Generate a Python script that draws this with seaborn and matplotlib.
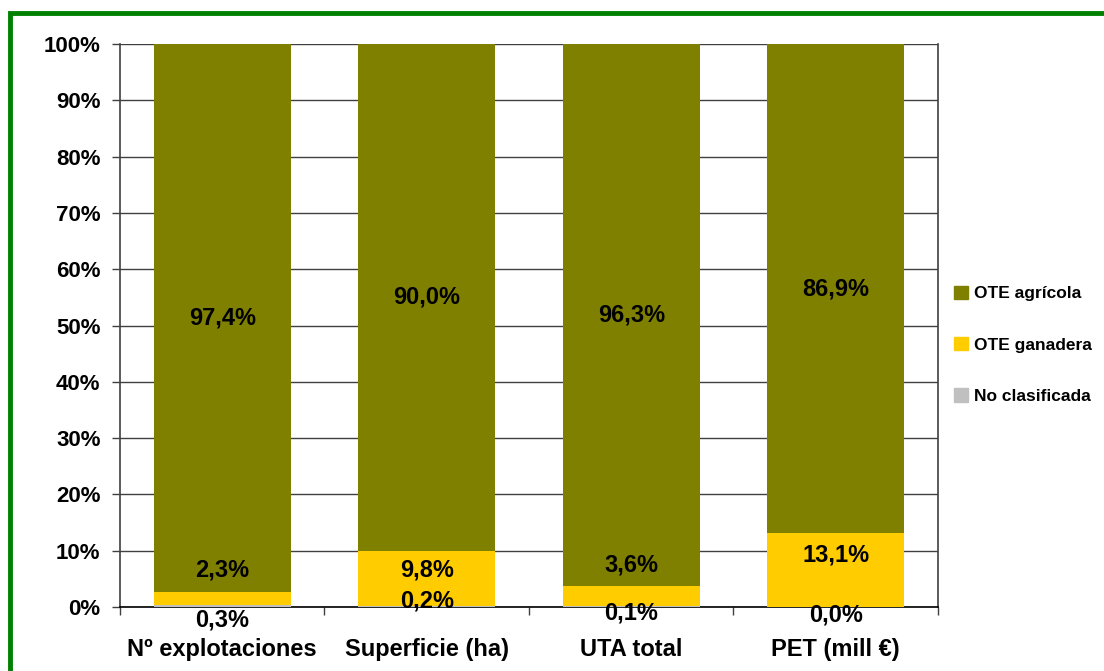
import matplotlib
matplotlib.use("Agg")
import matplotlib.pyplot as plt
import seaborn as sns
import pandas as pd
from matplotlib.patches import Rectangle, Patch

categories = ["Nº explotaciones", "Superficie (ha)", "UTA total", "PET (mill €)"]
no_clasificada = [0.3, 0.2, 0.1, 0.0]
ote_ganadera = [2.3, 9.8, 3.6, 13.1]
ote_agricola = [97.4, 90.0, 96.3, 86.9]
y_ticks = [0, 10, 20, 30, 40, 50, 60, 70, 80, 90, 100]

# where Excel put the small labels (data units)
ganadera_label_y = [6.6, 6.6, 7.5, 9.2]
nocl_label_y = [-2.4, 1.1, -1.0, -1.4]

colors = {"agr": "#808000", "gan": "#FFCC00", "nc": "#C0C0C0"}

df = pd.DataFrame({
    "cat": categories,
    "nc": no_clasificada,
    "gan": ote_ganadera,
    "agr": ote_agricola,
})
df["top_gan"] = df["nc"] + df["gan"]
df["top_agr"] = df["top_gan"] + df["agr"]

sns.set_style("white")
plt.rcParams["font.family"] = ["Liberation Sans", "DejaVu Sans"]
plt.rcParams["font.weight"] = "bold"
plt.rcParams["text.color"] = "black"
plt.rcParams["xtick.color"] = "black"
plt.rcParams["ytick.color"] = "black"

fig = plt.figure(figsize=(11.04, 6.71), dpi=100)
ax = fig.add_axes([0.1087, 0.0954, 0.7409, 0.839])

for col, key in [("top_agr", "agr"), ("top_gan", "gan"), ("nc", "nc")]:
    sns.barplot(data=df, x="cat", y=col, color=colors[key], width=0.67,
                saturation=1, linewidth=0, ax=ax, zorder=3)

ax.set_ylim(0, 100)
ax.set_xlim(-0.5, 3.5)
ax.set_yticks(y_ticks)
ax.set_yticklabels([f"{v}%" for v in y_ticks], fontsize=16, fontweight="bold")
ax.yaxis.grid(True, color="#404040", linewidth=1, zorder=0)
ax.set_axisbelow(True)
ax.set_xlabel("")
ax.set_ylabel("")

ax.set_xticks([-0.5, 0.5, 1.5, 2.5, 3.5])
ax.set_xticklabels([])
ax.set_xticks([0, 1, 2, 3], minor=True)
ax.set_xticklabels(categories, minor=True, fontsize=17, fontweight="bold")
ax.tick_params(axis="x", which="minor", length=0, pad=22)
ax.tick_params(axis="x", which="major", length=6, width=1, color="#404040", direction="out", bottom=True)
ax.tick_params(axis="y", length=6, width=1, color="#404040", direction="out", left=True, pad=8)

for s in ["left", "bottom", "right"]:
    ax.spines[s].set_visible(True)
    ax.spines[s].set_color("#404040")
    ax.spines[s].set_linewidth(1.2)
ax.spines["top"].set_visible(False)
ax.spines["bottom"].set_color("black")

for i in range(len(categories)):
    agr_mid = df["top_gan"][i] + df["agr"][i] / 2
    ax.text(i, agr_mid, f"{ote_agricola[i]:.1f}%".replace(".", ","),
            ha="center", va="center", fontsize=17, fontweight="bold", zorder=5)
    ax.text(i, ganadera_label_y[i], f"{ote_ganadera[i]:.1f}%".replace(".", ","),
            ha="center", va="center", fontsize=17, fontweight="bold", zorder=5)
    ax.text(i, nocl_label_y[i], f"{no_clasificada[i]:.1f}%".replace(".", ","),
            ha="center", va="center", fontsize=17, fontweight="bold", zorder=5,
            clip_on=False)

handles = [Patch(color=colors["agr"], label="OTE agrícola"),
           Patch(color=colors["gan"], label="OTE ganadera"),
           Patch(color=colors["nc"], label="No clasificada")]
fig.legend(handles=handles, loc="center left", bbox_to_anchor=(0.853, 0.486),
           frameon=False, prop={"weight": "bold", "size": 12.5},
           handlelength=0.8, handleheight=0.8, handletextpad=0.35, labelspacing=2.05,
           borderpad=0.2)

fig.patches.append(Rectangle((0.0095, -0.05), 1.05, 0.9806 + 0.05, transform=fig.transFigure,
                             fill=False, edgecolor="#008000", linewidth=3.5, zorder=10))

fig.savefig("out.png", dpi=100)
